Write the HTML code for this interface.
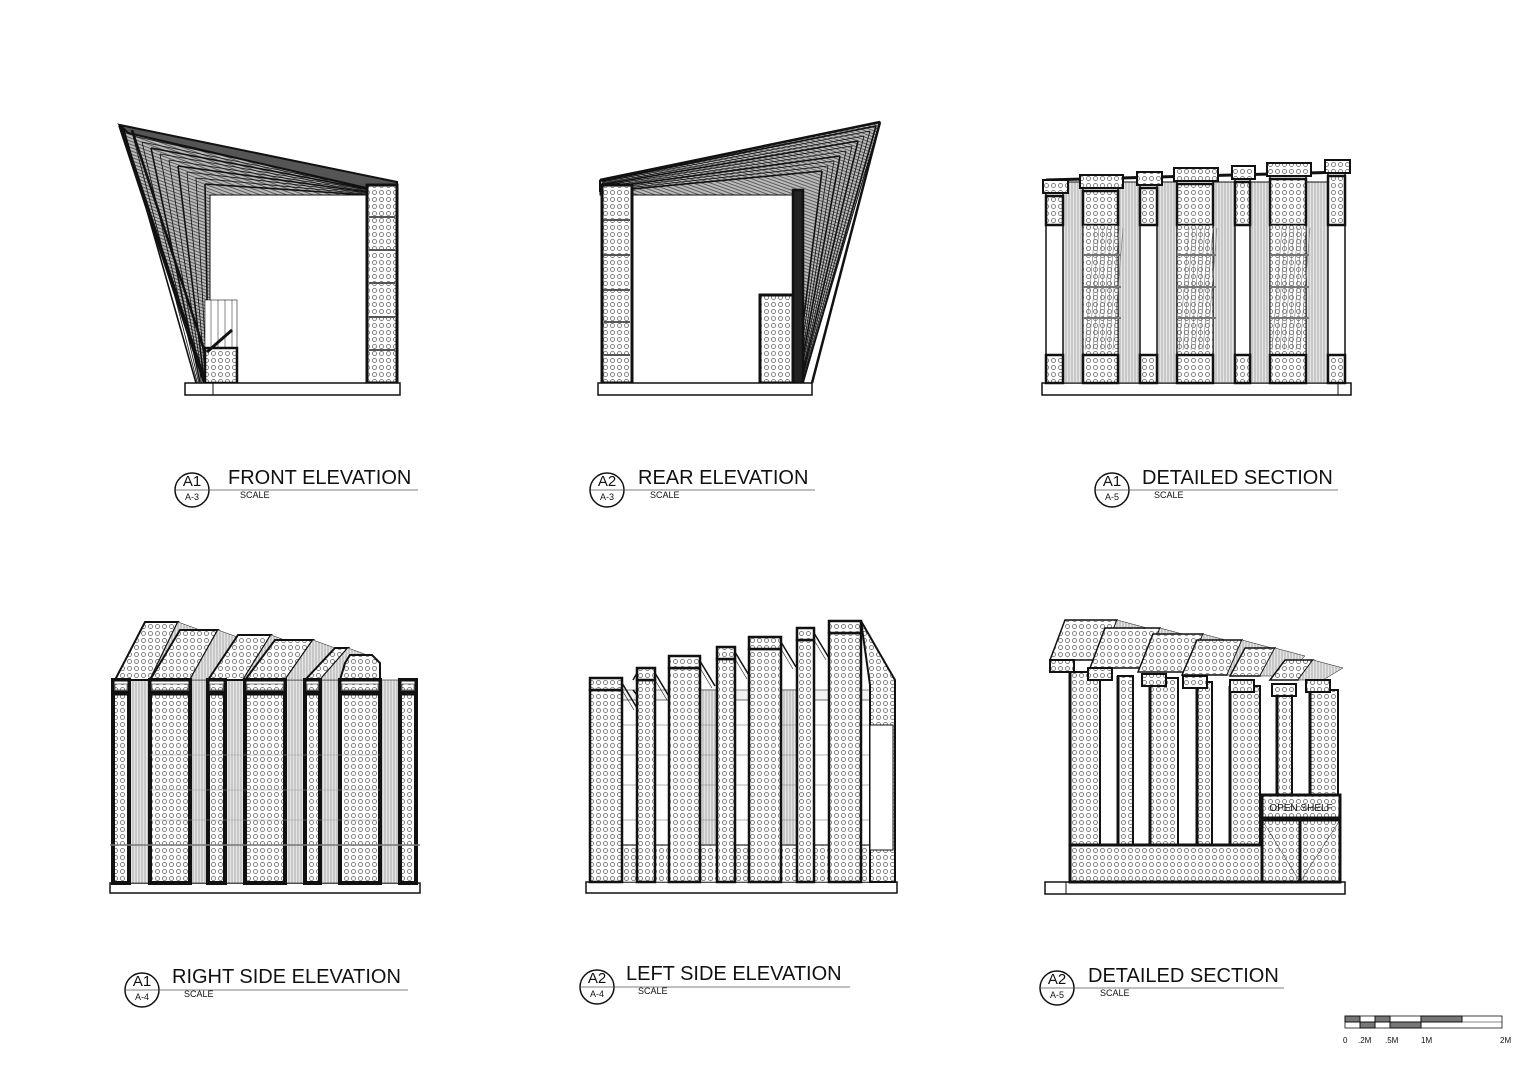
<!DOCTYPE html>
<html><head><meta charset="utf-8"><style>
html,body{margin:0;padding:0;background:#fff}
svg{display:block}
text{font-family:"Liberation Sans",sans-serif;fill:#111}
</style></head><body>
<svg id="s" width="1536" height="1086" viewBox="0 0 1536 1086" xmlns="http://www.w3.org/2000/svg">
<defs>
<pattern id="dots" width="7" height="7" patternUnits="userSpaceOnUse">
<rect width="7" height="7" fill="#fff"/><circle cx="3.5" cy="3.5" r="2" fill="none" stroke="#666" stroke-width="0.8"/>
</pattern>
<pattern id="strip" width="3" height="10" patternUnits="userSpaceOnUse">
<rect width="3" height="10" fill="#e4e4e4"/><line x1="1" y1="0" x2="1" y2="10" stroke="#888" stroke-width="0.6"/>
</pattern>
<pattern id="fan" width="3" height="3" patternUnits="userSpaceOnUse" patternTransform="rotate(20)">
<rect width="3" height="3" fill="#bbb"/><line x1="0" y1="1" x2="3" y2="1" stroke="#444" stroke-width="0.8"/>
</pattern>
</defs>
<g id="g" fill="none" stroke="#111"></g>
</svg>
<script>
const g=document.getElementById('g');let h='';
function R(x1,y1,x2,y2,fill,sw){h+=`<rect x="${x1}" y="${y1}" width="${x2-x1}" height="${y2-y1}" fill="${fill||'none'}" stroke="#111" stroke-width="${sw||1}"/>`;}
function P(pts,fill,sw){h+=`<polygon points="${pts}" fill="${fill||'none'}" stroke="#111" stroke-width="${sw||1}"/>`;}
function L(x1,y1,x2,y2,sw,c){h+=`<line x1="${x1}" y1="${y1}" x2="${x2}" y2="${y2}" stroke="${c||'#111'}" stroke-width="${sw||1}"/>`;}
function T(x,y,t,s,a){h+=`<text x="${x}" y="${y}" font-size="${s}" ${a||''} stroke="none">${t}</text>`;}
function label(cx,cy,a,b,title,tx,ty,lx2){
 h+=`<circle cx="${cx}" cy="${cy}" r="17" fill="#fff" stroke="#111" stroke-width="1.5"/>`;
 L(cx-17,cy,lx2,cy,0.8,'#555');
 T(cx,cy-4,a,15,'text-anchor="middle"');T(cx,cy+10,b,9,'text-anchor="middle"');
 T(tx,ty,title,20);T(tx+12,ty+14,'SCALE',9);
}
// ===== 1 FRONT ELEVATION =====
P('120,125 397,182 367,195 210,195 210,383 205,383','url(#fan)',1);
for(let i=0;i<10;i++){h+=`<polyline points="${124+i*9},${130+i*6} ${367},${186+i*1} " stroke="#111" stroke-width="${i%3?0.8:1.6}"/>`;L(124+i*9,130+i*6,196+i*1.4,383,i%3?0.8:1.6);}
P('120,125 397,182 397,195 128,133','#555',2);
L(120,125,205,383,4);L(132,130,215,383,2.5);
R(210,195,367,383,'#fff',1);
R(367,185,397,383,'url(#dots)',3);
for(let y of [217,250,283,317,350])L(369,y,395,y,2,'#555');
R(205,300,237,348,'#fff',0.6);for(let x of [211,218,225,232])L(x,300,x,348,0.5);
R(205,348,237,383,'url(#dots)',2.5);L(207,352,232,330,3);
R(185,383,400,395,'#fff',1.5);L(213,383,213,395,1);
// ===== 2 REAR ELEVATION =====
P('600,180 880,122 803,383 793,383 793,195 632,195 600,195','url(#fan)',1);
for(let i=0;i<10;i++){L(602,181+i*1.2,876-i*6,126+i*5,i%3?0.8:1.6);L(876-i*6,126+i*5,803-i*0.8,383,i%3?0.8:1.6);}
L(600,180,880,122,2.5);L(880,122,812,383,2.5);L(600,180,600,192,2);
R(632,195,793,383,'#fff',1);
R(602,185,632,383,'url(#dots)',3);
for(let y of [220,255,290,322,355])L(604,y,630,y,2,'#555');
R(793,190,803,383,'#222',2.5);
R(760,295,793,383,'url(#dots)',3);
R(598,383,812,395,'#fff',1.5);
// ===== 3 DETAILED SECTION =====
R(1042,383,1351,395,'#fff',1.5);L(1338,383,1338,395,1);
L(1046,180,1345,172,3);
const cols3=[[1046,1063,'n',180],[1083,1118,'w',175],[1140,1157,'n',172],[1177,1213,'w',168],[1235,1250,'n',166],[1270,1306,'w',163],[1328,1345,'n',160]];
const str3=[[1063,1083],[1118,1140],[1157,1177],[1213,1235],[1250,1270],[1306,1328]];
for(const [a,b] of str3)R(a,182,b,383,'url(#strip)',1);
for(const [a,b,t,top] of cols3){
 R(a,top+12,b,383,'#fff',1.5);
 R(a-3,top,b+5,top+13,'url(#dots)',2);
 R(a,top+16,b,225,'url(#dots)',2.5);
 if(t=='w'){R(a,225,b,355,'url(#dots)',1);for(let y of [255,287,318])L(a,y,b+3,y,2,'#777');
  for(let k=0;k<8;k++)L(a+2+k*4,350,a+12+k*4,228,0.6,'#777');}
 R(a,355,b,383,'url(#dots)',2.5);
}
// ===== 4 RIGHT SIDE ELEVATION =====
R(110,883,420,893,'#fff',1.5);
const roof4=[[115,680,35,58],[150,680,40,50],[208,680,35,45],[245,680,40,40],[305,680,15,32],[340,680,40,25]];
const str4=[[129,150],[190,208],[225,245],[285,305],[320,340],[380,400]];
for(const [a,b] of str4)R(a,680,b,883,'url(#strip)',0.6);
for(let i=0;i<roof4.length;i++){const [x,y,w,hh]=roof4[i];
 if(i==5){P(`${x},${y} ${x+5},${y-hh+8} ${x+10},${y-hh} ${x+w-8},${y-hh} ${x+w},${y-hh+8} ${x+w},${y}`,'url(#dots)',2);}
 else{P(`${x},${y} ${x+30},${y-hh} ${x+w+28},${y-hh} ${x+w},${y}`,'url(#dots)',2);
  P(`${x+w},${y} ${x+w+28},${y-hh} ${x+w+50},${y-hh+8} ${x+w+20},${y}`,'url(#strip)',0.5);}}
const cols4=[[113,129],[150,190],[208,225],[245,285],[305,320],[340,380],[400,416]];
for(const [a,b] of cols4){R(a,680,b,883,'url(#dots)',4);R(a,680,b,693,'#fff',3);R(a+2,684,b-2,690,'url(#dots)',0.5);L(a,693,b,693,5);}
L(110,845,420,845,1.5,'#777');
for(let y of [755,790,820])L(150,y,380,y,0.6,'#999');
// ===== 5 LEFT SIDE ELEVATION =====
R(586,882,897,893,'#fff',1.5);
R(590,690,895,882,'#f2f2f2',0.5);
for(const [a,b] of [[700,717],[781,797]])R(a,690,b,882,'url(#strip)',0.5);
for(const [a,b] of [[622,637],[655,669],[735,749],[814,829],[861,870]])R(a,700,b,845,'#fff',0.6);
for(let y of [725,755,785,820])L(622,y,870,y,0.8,'#999');
R(590,845,895,882,'url(#dots)',0.5);
L(590,845,895,845,1.5,'#555');
const cols5=[[590,622,678],[637,655,668],[669,700,656],[717,735,647],[749,781,637],[797,814,628],[829,861,621]];
for(const [a,b,t] of cols5){R(a,t+12,b,882,'url(#dots)',2.5);R(a,t,b,t+12,'url(#dots)',2.5);
 L(b,t+5,b+15,t+30,1.5);L(b,t+12,b+12,t+32,0.6);}
L(633,680,637,673,1.5);L(633,690,637,695,1.5);
P('861,621 895,680 895,882 870,882 870,685','url(#dots)',2);R(870,725,893,850,'#fff',1);
// ===== 6 DETAILED SECTION 2 =====
R(1045,882,1345,894,'#fff',1.5);L(1066,882,1066,894,1);
const planks=[[1050,660,52,40],[1090,668,55,40],[1138,672,50,38],[1182,675,45,35],[1230,676,30,28],[1270,680,28,20]];
for(const [x,y,w,hh] of planks){P(`${x},${y} ${x+15},${y-hh} ${x+w+15},${y-hh} ${x+w},${y}`,'url(#dots)',1.5);
 P(`${x+w},${y} ${x+w+15},${y-hh} ${x+w+45},${y-hh+8} ${x+w+25},${y}`,'url(#strip)',0.5);}
const cols6=[[1070,1100,672],[1118,1133,676],[1150,1178,678],[1197,1212,682],[1230,1260,686],[1277,1292,688],[1310,1338,690]];
for(const [a,b,t] of cols6){R(a,t,b,845,'url(#dots)',2);L(a,t,a,845,3);}
for(const [x,y] of [[1050,660],[1088,668],[1142,674],[1183,676],[1230,680],[1272,684],[1306,680]])R(x,y,x+24,y+12,'url(#dots)',2);
R(1070,845,1262,882,'url(#dots)',3);
R(1262,795,1340,818,'url(#dots)',3);T(1301,811,'OPEN SHELF',10,'text-anchor="middle"');
R(1262,820,1300,882,'url(#dots)',3);R(1300,820,1340,882,'url(#dots)',3);
L(1262,820,1300,882,0.5);L(1340,820,1300,882,0.5);
// ===== LABELS =====
label(192,490,'A1','A-3','FRONT ELEVATION',228,484,418);
label(607,490,'A2','A-3','REAR ELEVATION',638,484,815);
label(1112,490,'A1','A-5','DETAILED SECTION',1142,484,1338);
label(142,990,'A1','A-4','RIGHT SIDE ELEVATION',172,983,408);
label(597,987,'A2','A-4','LEFT SIDE ELEVATION',626,980,850);
label(1057,988,'A2','A-5','DETAILED SECTION',1088,982,1284);
// scale bar
R(1345,1016,1502,1028,'#fff',0.8);L(1345,1022,1502,1022,0.6);
for(const [a,b,y] of [[1345,1360,1016],[1360,1375,1022],[1375,1390,1016],[1390,1421,1022],[1421,1462,1016]])h+=`<rect x="${a}" y="${y}" width="${b-a}" height="6" fill="#777"/>`;
for(const [x,t] of [[1343,'0'],[1358,'.2M'],[1385,'.5M'],[1421,'1M'],[1500,'2M']])T(x,1043,t,8);
g.innerHTML=h;
</script>
</body></html>
